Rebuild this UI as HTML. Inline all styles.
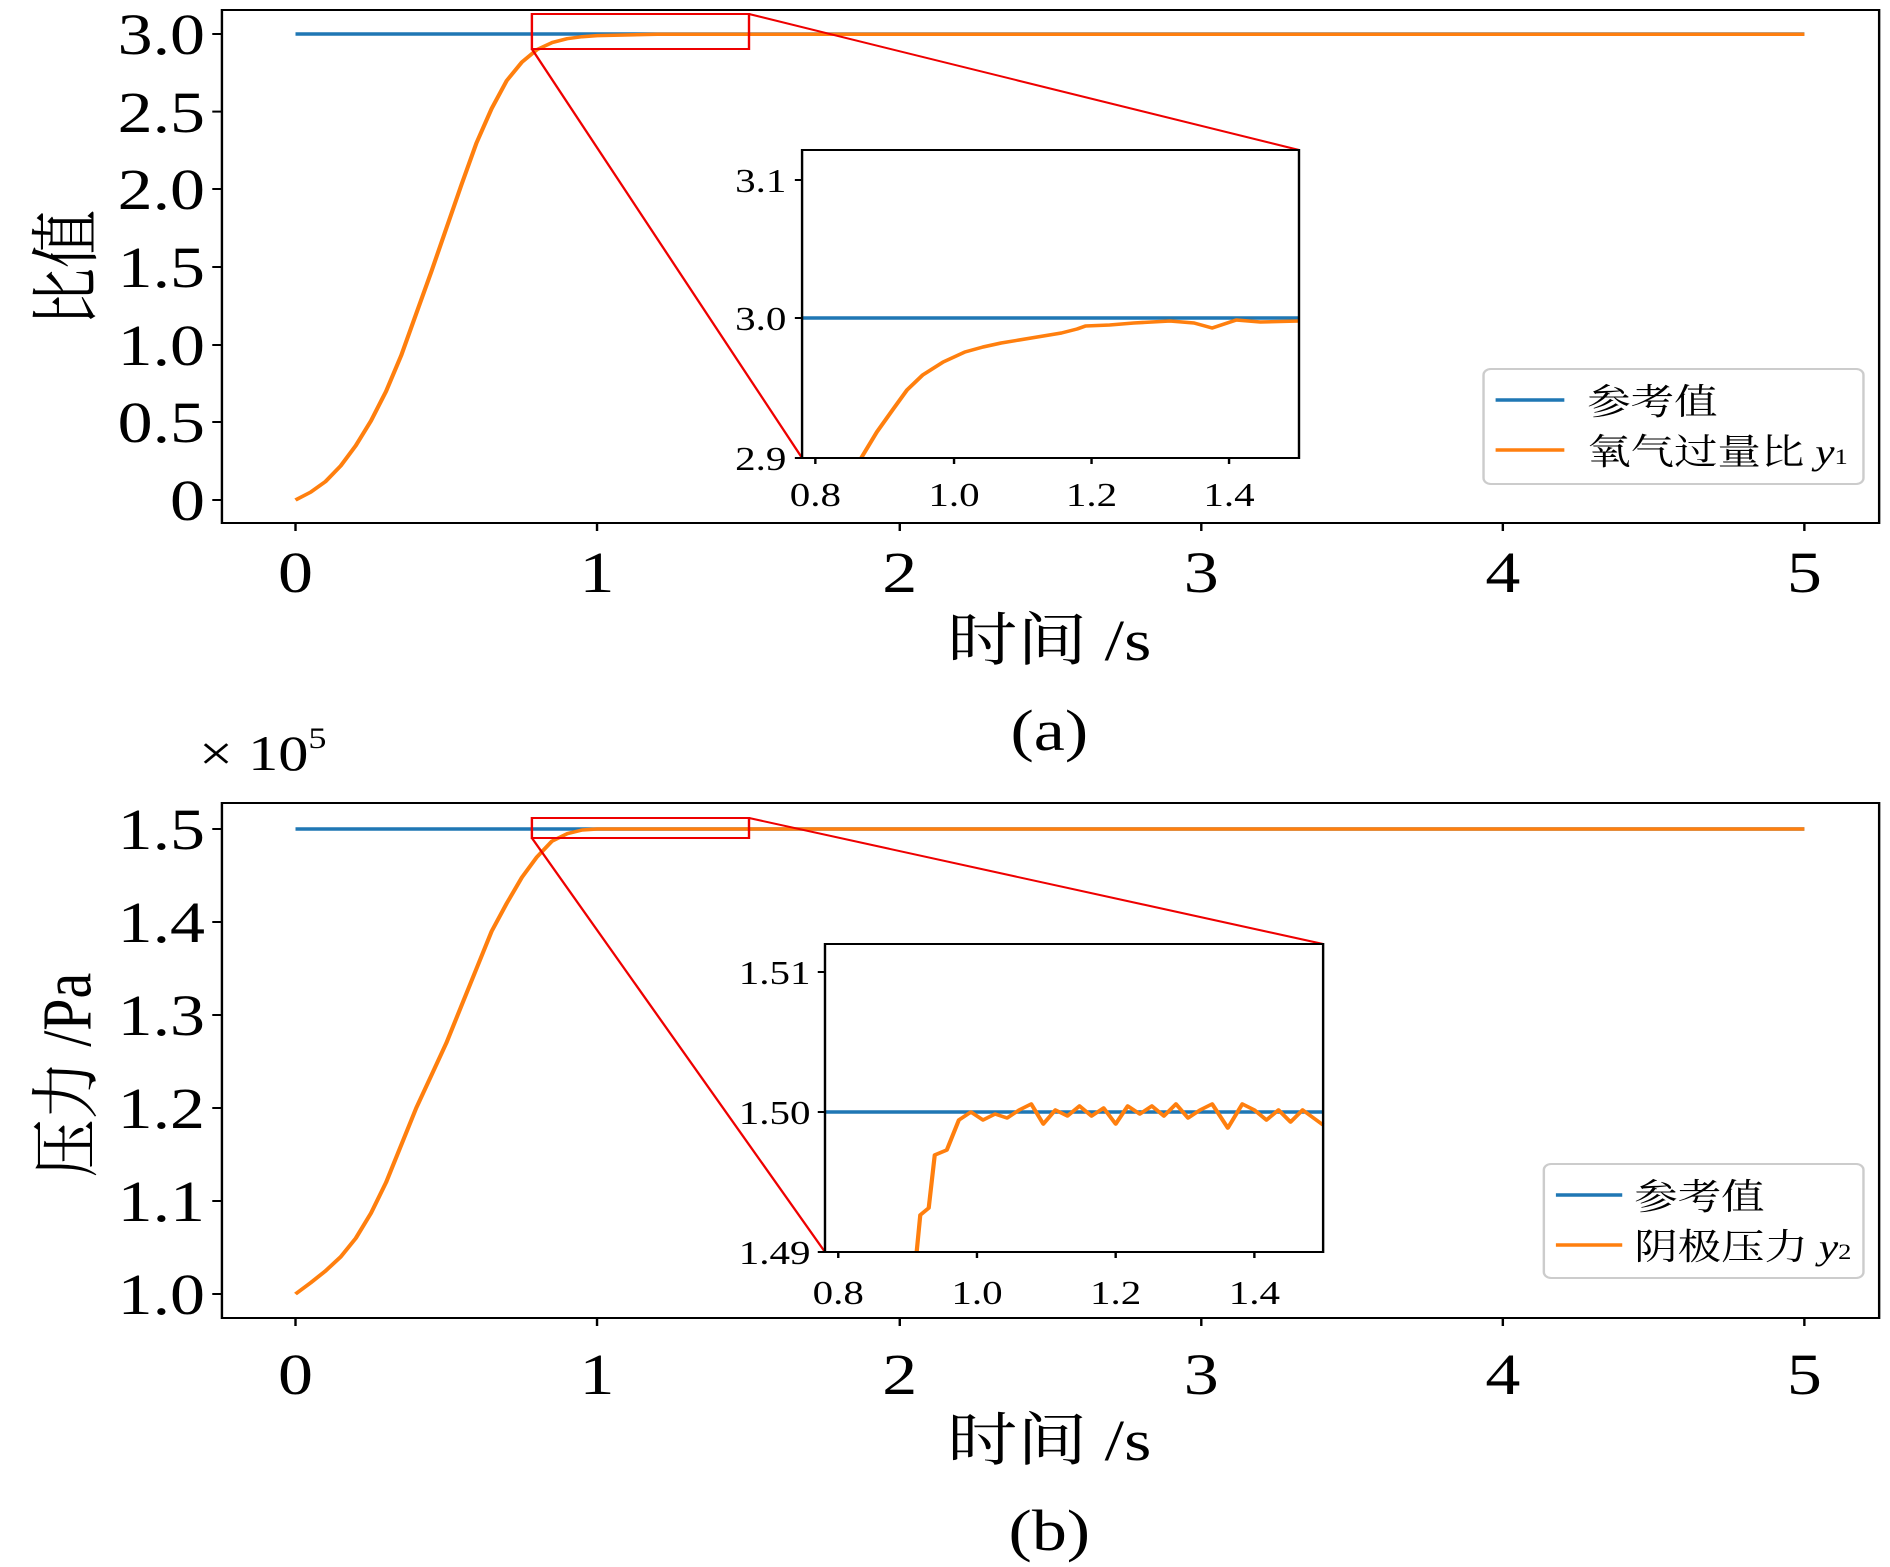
<!DOCTYPE html>
<html><head><meta charset="utf-8"><style>html,body{margin:0;padding:0;background:#fff}svg{display:block}</style></head><body>
<svg width="1890" height="1567" viewBox="0 0 1567 1567" preserveAspectRatio="none" xmlns="http://www.w3.org/2000/svg" font-family="'Liberation Serif','Noto Serif CJK SC',serif">
<!-- TOP PLOT -->
<g>
<line x1="245" y1="34" x2="1496" y2="34" stroke="#1f77b4" stroke-width="3.5"/>
<path d="M245,500 L257.5,492.2 L270,481.4 L282.5,465.8 L295,445.6 L307.6,420.8 L320.1,391.3 L332.6,355.6 L345.1,313.6 L357.6,271.7 L370.1,228.2 L382.6,184.7 L395.1,142.8 L407.6,108.6 L420.1,80.7 L432.7,62.1 L445.2,49.6 L457.7,42.6 L470.2,38.7 L482.7,36.7 L495.2,35.6 L545,34.3 L1496,34.3" fill="none" stroke="#ff7f0e" stroke-width="3.5" stroke-linejoin="round"/>
<rect x="184" y="10" width="1374" height="513" fill="none" stroke="#000" stroke-width="2"/>
<g stroke="#000" stroke-width="2">
<line x1="176" y1="34" x2="184" y2="34"/><line x1="176" y1="111.6" x2="184" y2="111.6"/><line x1="176" y1="189" x2="184" y2="189"/><line x1="176" y1="267" x2="184" y2="267"/><line x1="176" y1="345" x2="184" y2="345"/><line x1="176" y1="422" x2="184" y2="422"/><line x1="176" y1="500" x2="184" y2="500"/>
<line x1="245" y1="523" x2="245" y2="531"/><line x1="495" y1="523" x2="495" y2="531"/><line x1="746" y1="523" x2="746" y2="531"/><line x1="996" y1="523" x2="996" y2="531"/><line x1="1246" y1="523" x2="1246" y2="531"/><line x1="1496" y1="523" x2="1496" y2="531"/>
</g>
<g font-size="58" text-anchor="end">
<text x="170" y="54">3.0</text><text x="170" y="132">2.5</text><text x="170" y="209">2.0</text><text x="170" y="287">1.5</text><text x="170" y="365">1.0</text><text x="170" y="442">0.5</text><text x="170" y="520">0</text>
</g>
<g font-size="58" text-anchor="middle">
<text x="245" y="592">0</text><text x="495" y="592">1</text><text x="746" y="592">2</text><text x="996" y="592">3</text><text x="1246" y="592">4</text><text x="1496" y="592">5</text>
<text x="870" y="660">时间 /s</text>
<text x="870" y="750">(a)</text>
</g>
<text transform="translate(75,268) rotate(-90)" font-size="58" text-anchor="middle">比值</text>
<rect x="441" y="14" width="180" height="35" fill="none" stroke="#e00" stroke-width="2"/>
<line x1="441" y1="49" x2="665" y2="458" stroke="#e00" stroke-width="2"/>
<line x1="621" y1="14" x2="1077" y2="150" stroke="#e00" stroke-width="2"/>
<rect x="665" y="150" width="412" height="308" fill="#fff"/>
<line x1="665" y1="318" x2="1077" y2="318" stroke="#1f77b4" stroke-width="3.5"/>
<path d="M714,458 L727,432 L740,410 L752,390 L765,375 L782,362 L800,352 L815,347 L830,343 L845,340 L860,337 L880,333 L893,329 L900,326 L920,325 L940,323 L955,322 L970,321 L990,323 L1005,328 L1015,324 L1025,320 L1045,322 L1077,321" fill="none" stroke="#ff7f0e" stroke-width="3.5" stroke-linejoin="round"/>
<rect x="665" y="150" width="412" height="308" fill="none" stroke="#000" stroke-width="2"/>
<g stroke="#000" stroke-width="2">
<line x1="659" y1="180" x2="665" y2="180"/><line x1="659" y1="318" x2="665" y2="318"/><line x1="659" y1="458" x2="665" y2="458"/>
<line x1="676" y1="458" x2="676" y2="464"/><line x1="791" y1="458" x2="791" y2="464"/><line x1="905" y1="458" x2="905" y2="464"/><line x1="1019" y1="458" x2="1019" y2="464"/>
</g>
<g font-size="34" text-anchor="end"><text x="652" y="192">3.1</text><text x="652" y="330">3.0</text><text x="652" y="470">2.9</text></g>
<g font-size="34" text-anchor="middle"><text x="676" y="506">0.8</text><text x="791" y="506">1.0</text><text x="905" y="506">1.2</text><text x="1019" y="506">1.4</text></g>
<rect x="1230" y="369" width="315" height="115" rx="6" fill="#fff" stroke="#ccc" stroke-width="2"/>
<line x1="1240" y1="400" x2="1297" y2="400" stroke="#1f77b4" stroke-width="3.5"/>
<line x1="1240" y1="450" x2="1297" y2="450" stroke="#ff7f0e" stroke-width="3.5"/>
<text x="1316" y="414" font-size="36">参考值</text>
<text x="1316" y="464" font-size="36">氧气过量比 <tspan font-style="italic">y</tspan><tspan font-size="22">1</tspan></text>
</g>
<!-- BOTTOM PLOT -->
<g>
<text x="165" y="770" font-size="50">× 10<tspan font-size="30" dy="-22">5</tspan></text>
<line x1="245" y1="829" x2="1496" y2="829" stroke="#1f77b4" stroke-width="3.5"/>
<path d="M245,1294 L257.5,1282.8 L270,1270.8 L282.5,1256.8 L295,1238.2 L307.6,1213.1 L320.1,1182.4 L332.6,1145.2 L345.1,1108 L357.6,1075.5 L370.1,1042.9 L382.6,1005.7 L395.1,968.5 L407.6,931.3 L420.1,903.4 L432.7,877.4 L445.2,856.9 L457.7,841.1 L470.2,833.7 L482.7,830 L495.2,829 L1496,829" fill="none" stroke="#ff7f0e" stroke-width="3.5" stroke-linejoin="round"/>
<rect x="184" y="803" width="1374" height="515" fill="none" stroke="#000" stroke-width="2"/>
<g stroke="#000" stroke-width="2">
<line x1="176" y1="829" x2="184" y2="829"/><line x1="176" y1="922" x2="184" y2="922"/><line x1="176" y1="1015" x2="184" y2="1015"/><line x1="176" y1="1108" x2="184" y2="1108"/><line x1="176" y1="1201" x2="184" y2="1201"/><line x1="176" y1="1294" x2="184" y2="1294"/>
<line x1="245" y1="1318" x2="245" y2="1326"/><line x1="495" y1="1318" x2="495" y2="1326"/><line x1="746" y1="1318" x2="746" y2="1326"/><line x1="996" y1="1318" x2="996" y2="1326"/><line x1="1246" y1="1318" x2="1246" y2="1326"/><line x1="1496" y1="1318" x2="1496" y2="1326"/>
</g>
<g font-size="58" text-anchor="end">
<text x="170" y="849">1.5</text><text x="170" y="942">1.4</text><text x="170" y="1035">1.3</text><text x="170" y="1128">1.2</text><text x="170" y="1221">1.1</text><text x="170" y="1314">1.0</text>
</g>
<g font-size="58" text-anchor="middle">
<text x="245" y="1394">0</text><text x="495" y="1394">1</text><text x="746" y="1394">2</text><text x="996" y="1394">3</text><text x="1246" y="1394">4</text><text x="1496" y="1394">5</text>
<text x="870" y="1460">时间 /s</text>
<text x="870" y="1550">(b)</text>
</g>
<text transform="translate(75,1075) rotate(-90)" font-size="58" text-anchor="middle">压力 /Pa</text>
<rect x="441" y="818" width="180" height="20" fill="none" stroke="#e00" stroke-width="2"/>
<line x1="441" y1="838" x2="684" y2="1252" stroke="#e00" stroke-width="2"/>
<line x1="621" y1="818" x2="1097" y2="944" stroke="#e00" stroke-width="2"/>
<rect x="684" y="944" width="413" height="308" fill="#fff"/>
<line x1="684" y1="1112" x2="1097" y2="1112" stroke="#1f77b4" stroke-width="3.5"/>
<path d="M760,1252 L763,1215 L770,1208 L775,1155 L785,1150 L795,1120 L805,1112 L815,1120 L825,1114 L835,1118 L845,1110 L855,1104 L865,1124 L875,1110 L885,1116 L895,1106 L905,1116 L915,1108 L925,1124 L935,1106 L945,1114 L955,1106 L965,1116 L975,1104 L985,1118 L995,1110 L1005,1104 L1018,1128 L1030,1104 L1040,1110 L1050,1120 L1060,1110 L1070,1122 L1080,1110 L1097,1125" fill="none" stroke="#ff7f0e" stroke-width="3.5" stroke-linejoin="round"/>
<rect x="684" y="944" width="413" height="308" fill="none" stroke="#000" stroke-width="2"/>
<g stroke="#000" stroke-width="2">
<line x1="678" y1="972" x2="684" y2="972"/><line x1="678" y1="1112" x2="684" y2="1112"/><line x1="678" y1="1252" x2="684" y2="1252"/>
<line x1="695" y1="1252" x2="695" y2="1258"/><line x1="810" y1="1252" x2="810" y2="1258"/><line x1="925" y1="1252" x2="925" y2="1258"/><line x1="1040" y1="1252" x2="1040" y2="1258"/>
</g>
<g font-size="34" text-anchor="end"><text x="672" y="984">1.51</text><text x="672" y="1124">1.50</text><text x="672" y="1264">1.49</text></g>
<g font-size="34" text-anchor="middle"><text x="695" y="1304">0.8</text><text x="810" y="1304">1.0</text><text x="925" y="1304">1.2</text><text x="1040" y="1304">1.4</text></g>
<rect x="1280" y="1164" width="265" height="114" rx="6" fill="#fff" stroke="#ccc" stroke-width="2"/>
<line x1="1290" y1="1195" x2="1345" y2="1195" stroke="#1f77b4" stroke-width="3.5"/>
<line x1="1290" y1="1245" x2="1345" y2="1245" stroke="#ff7f0e" stroke-width="3.5"/>
<text x="1355" y="1209" font-size="36">参考值</text>
<text x="1355" y="1259" font-size="36">阴极压力 <tspan font-style="italic">y</tspan><tspan font-size="22">2</tspan></text>
</g>
</svg>
</body></html>
